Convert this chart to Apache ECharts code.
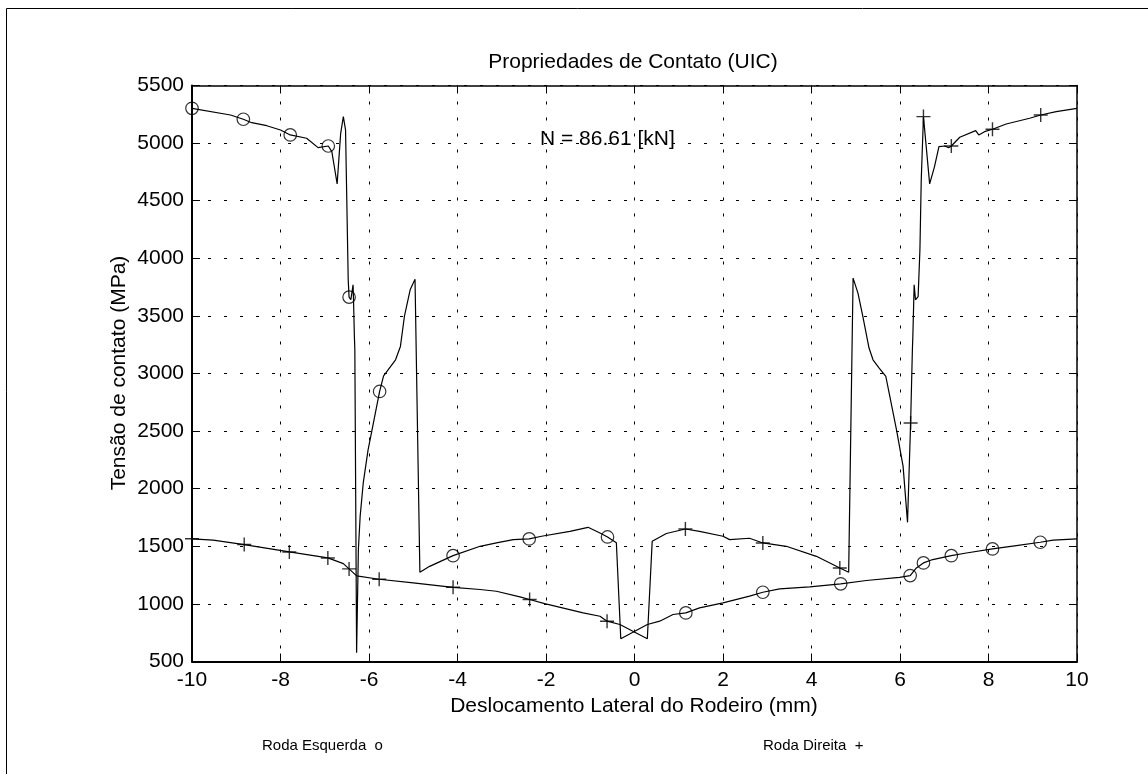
<!DOCTYPE html>
<html>
<head>
<meta charset="utf-8">
<title>Propriedades de Contato (UIC)</title>
<script src="https://cdn.jsdelivr.net/npm/echarts@6/dist/echarts.min.js"></script>
<style>
  html, body { margin: 0; padding: 0; background: #fff; }
  #chart { width: 1148px; height: 774px; }
</style>
</head>
<body>
<div id="chart"></div>
<script>
// Contact stress vs. lateral wheelset displacement, [x (mm), stress (MPa)]
const rodaEsquerda = [
  [-10, 5302], [-9.13, 5244], [-8.84, 5207], [-8.65, 5177], [-8.31, 5151], [-8.0, 5114],
  [-7.78, 5071], [-7.41, 5042], [-7.15, 4961], [-6.92, 4975], [-6.84, 4926], [-6.79, 4810],
  [-6.72, 4646], [-6.68, 4646], [-6.64, 5085], [-6.58, 5230], [-6.53, 5114], [-6.51, 4680],
  [-6.47, 3813], [-6.45, 3663], [-6.41, 3640], [-6.36, 3770], [-6.35, 3640], [-6.33, 3320],
  [-6.32, 3206], [-6.28, 575], [-6.24, 1473], [-6.20, 1760], [-6.13, 2050], [-6.02, 2339],
  [-5.93, 2512], [-5.76, 2844], [-5.67, 2980], [-5.40, 3119], [-5.29, 3235], [-5.20, 3495],
  [-5.07, 3726], [-4.96, 3819], [-4.85, 1275], [-4.63, 1326], [-4.10, 1419], [-3.49, 1500],
  [-3.12, 1529], [-2.74, 1558], [-2.38, 1564], [-2.10, 1587], [-1.46, 1630], [-1.05, 1665],
  [-0.78, 1616], [-0.61, 1581], [-0.41, 1530], [-0.31, 697], [0.29, 821], [0.57, 850],
  [0.87, 908], [1.16, 922], [1.47, 966], [2.0, 1009], [2.60, 1067], [2.90, 1101],
  [3.28, 1130], [3.96, 1148], [4.66, 1174], [5.24, 1203], [5.99, 1231], [6.23, 1246],
  [6.37, 1312], [6.53, 1356], [6.74, 1385], [7.16, 1419], [7.50, 1442], [8.09, 1477],
  [8.63, 1506], [9.17, 1535], [9.46, 1553], [10, 1564]
];

const rodaDireita = [
  [-10, 1565], [-9.52, 1553], [-8.82, 1515], [-7.80, 1451], [-6.93, 1399], [-6.58, 1350],
  [-6.45, 1304], [-6.28, 1243], [-5.77, 1214], [-5.0, 1183], [-4.10, 1144], [-3.49, 1125],
  [-3.12, 1110], [-2.59, 1061], [-2.37, 1038], [-2.03, 1003], [-1.16, 922], [-0.78, 893],
  [-0.62, 850], [-0.33, 821], [0.29, 697], [0.40, 1543], [0.72, 1611], [1.15, 1650],
  [1.47, 1630], [2.0, 1587], [2.15, 1558], [2.60, 1570], [2.90, 1529], [3.43, 1500],
  [4.11, 1413], [4.64, 1312], [4.84, 1275], [4.94, 3828], [5.05, 3698], [5.16, 3495],
  [5.30, 3221], [5.39, 3119], [5.53, 3047], [5.68, 2974], [5.77, 2801], [5.92, 2512],
  [6.07, 2194], [6.17, 1708], [6.24, 2570], [6.28, 3206], [6.29, 3320], [6.32, 3770],
  [6.35, 3640], [6.41, 3668], [6.45, 4073], [6.48, 4680], [6.53, 5230], [6.67, 4646],
  [6.71, 4652], [6.78, 4796], [6.88, 4969], [7.01, 4975], [7.10, 4960], [7.16, 4975],
  [7.35, 5051], [7.71, 5108], [7.78, 5071], [7.91, 5099], [8.09, 5120], [8.40, 5166],
  [8.93, 5216], [9.18, 5244], [9.53, 5273], [10, 5302]
];

// Marker positions ('o' = left wheel, '+' = right wheel)
const marcasEsquerda = [
  [-10, 5302], [-8.84, 5207], [-7.78, 5071], [-6.92, 4975], [-6.45, 3663], [-5.76, 2844],
  [-4.10, 1419], [-2.38, 1564], [-0.61, 1581], [1.16, 922], [2.90, 1101], [4.66, 1174],
  [6.23, 1246], [6.53, 1356], [7.16, 1419], [8.09, 1477], [9.17, 1535]
];
const marcasDireita = [
  [-10, 1565], [-8.82, 1515], [-7.80, 1451], [-6.93, 1399], [-6.45, 1304], [-5.77, 1214],
  [-4.10, 1144], [-2.37, 1038], [-0.62, 850], [1.15, 1650], [2.90, 1529], [4.64, 1312],
  [6.24, 2570], [6.53, 5230], [7.16, 4975], [8.09, 5120], [9.18, 5244]
];

const xRange = { min: -10, max: 10, interval: 2 };
const yRange = { min: 500, max: 5500, interval: 500 };

const titulo = 'Propriedades de Contato (UIC)';
const anotacao = 'N = 86.61 [kN]';
const rotuloX = 'Deslocamento Lateral do Rodeiro (mm)';
const rotuloY = 'Tensão de contato (MPa)';
const legendaEsquerda = 'Roda Esquerda  o';
const legendaDireita = 'Roda Direita  +';

const FONT = "'Liberation Sans', Arial, Helvetica, sans-serif";
const GRID = { left: 192, top: 85.5, width: 885, height: 576 };
const dotted = { color: '#000', width: 1, type: [3, 13] };

function axisBase(pos, main) {
  return {
    type: 'value',
    position: pos,
    axisLine: { show: true, onZero: false, lineStyle: { color: '#000', width: main ? 2 : 1.5 } },
    axisTick: { show: true, inside: true, length: 8, lineStyle: { color: '#000', width: 1 } },
    axisLabel: {
      show: main, color: '#000', fontSize: 21, fontFamily: FONT, margin: 8,
      formatter: (v) => String(v)
    },
    splitLine: { show: main, lineStyle: dotted }
  };
}

const xMain = Object.assign(axisBase('bottom', true), xRange);
const xTop = Object.assign(axisBase('top', false), xRange);
const yMain = Object.assign(axisBase('left', true), yRange);
const yRight = Object.assign(axisBase('right', false), yRange);

const plusPath = 'path://M5.85,0h1.3v5.85h5.85v1.3h-5.85v5.85h-1.3v-5.85h-5.85v-1.3h5.85z';

const chart = echarts.init(document.getElementById('chart'), null, { renderer: 'canvas' });
chart.setOption({
  animation: false,
  backgroundColor: '#fff',
  grid: GRID,
  xAxis: [xMain, xTop],
  yAxis: [yMain, yRight],
  series: [
    {
      name: 'Roda Esquerda', type: 'line', data: rodaEsquerda, xAxisIndex: 0, yAxisIndex: 0,
      showSymbol: false, symbol: 'none', lineStyle: { color: '#000', width: 1.2 }
    },
    {
      name: 'Roda Direita', type: 'line', data: rodaDireita, xAxisIndex: 0, yAxisIndex: 0,
      showSymbol: false, symbol: 'none', lineStyle: { color: '#000', width: 1.2 }
    },
    {
      name: 'o', type: 'scatter', data: marcasEsquerda, symbol: 'circle', symbolSize: 12.5,
      itemStyle: { color: 'rgba(0,0,0,0)', borderColor: '#000', borderWidth: 1.2 }
    },
    {
      name: '+', type: 'scatter', data: marcasDireita, symbol: plusPath, symbolSize: 14,
      itemStyle: { color: '#000' }
    }
  ],
  graphic: [
    { type: 'line', shape: { x1: 6.5, y1: 8.5, x2: 6.5, y2: 774 }, style: { stroke: '#000', lineWidth: 1 } },
    { type: 'line', shape: { x1: 6.5, y1: 8.5, x2: 1148, y2: 8.5 }, style: { stroke: '#000', lineWidth: 1 } },
    { type: 'text', x: 633, y: 62, style: { text: titulo, font: '21px ' + FONT, fill: '#000', textAlign: 'center', textVerticalAlign: 'middle' } },
    { type: 'text', x: 540, y: 139, style: { text: anotacao, font: '21px ' + FONT, fill: '#000', textAlign: 'left', textVerticalAlign: 'middle' } },
    { type: 'text', x: 634, y: 706, style: { text: rotuloX, font: '21px ' + FONT, fill: '#000', textAlign: 'center', textVerticalAlign: 'middle' } },
    { type: 'text', x: 119, y: 373, rotation: Math.PI / 2, style: { text: rotuloY, font: '21px ' + FONT, fill: '#000', textAlign: 'center', textVerticalAlign: 'middle' } },
    { type: 'text', x: 262, y: 746, style: { text: legendaEsquerda, font: '15px ' + FONT, fill: '#000', textAlign: 'left', textVerticalAlign: 'middle' } },
    { type: 'text', x: 763, y: 746, style: { text: legendaDireita, font: '15px ' + FONT, fill: '#000', textAlign: 'left', textVerticalAlign: 'middle' } }
  ]
});
</script>
</body>
</html>
